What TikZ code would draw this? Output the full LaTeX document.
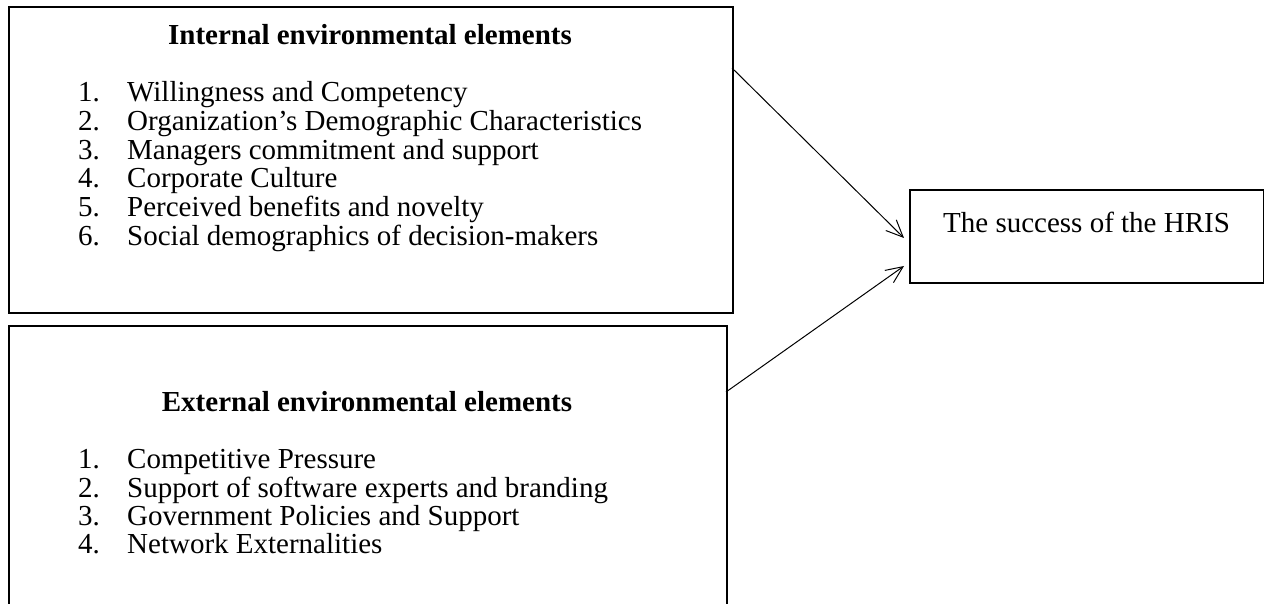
\documentclass[tikz,border=0pt]{standalone}
\usepackage{fontspec}
\setmainfont{Liberation Serif}
\usetikzlibrary{arrows.meta}
\begin{document}
\begin{tikzpicture}[x=1pt,y=-1pt,
  boxstyle/.style={draw=black,line width=1.8pt,inner sep=0pt,anchor=north west},
  txt/.style={inner sep=0pt,anchor=base west,font=\fontsize{29}{34}\selectfont},
  ttl/.style={inner sep=0pt,anchor=base,font=\fontsize{29}{34}\selectfont\bfseries},
  conn/.style={line width=1pt,-{Straight Barb[length=17pt,width=15pt,line width=1pt]}}]
\useasboundingbox (0,0) rectangle (1264,604);
\clip (0,0) rectangle (1264,604);
\fill[white] (0,0) rectangle (1264,604);
% boxes
\node[boxstyle,minimum width=724pt,minimum height=306pt] (box1) at (8,6) {};
\node[boxstyle,minimum width=718pt,minimum height=300pt] (box2) at (8,325) {};
\node[boxstyle,minimum width=354pt,minimum height=93pt] (box3) at (909,189) {};
% box1 text
\node[ttl] (t1) at (370,45) {Internal environmental elements};
\node[txt] (n11) at (78,102) {1.}; \node[txt] (i11) at (127,102) {Willingness and Competency};
\node[txt] (n12) at (78,131) {2.}; \node[txt] (i12) at (127,131) {Organization’s Demographic Characteristics};
\node[txt] (n13) at (78,160) {3.}; \node[txt] (i13) at (127,160) {Managers commitment and support};
\node[txt] (n14) at (78,188) {4.}; \node[txt] (i14) at (127,188) {Corporate Culture};
\node[txt] (n15) at (78,217) {5.}; \node[txt] (i15) at (127,217) {Perceived benefits and novelty};
\node[txt] (n16) at (78,246) {6.}; \node[txt] (i16) at (127,246) {Social demographics of decision-makers};
% box2 text
\node[ttl] (t2) at (367,411) {External environmental elements};
\node[txt] (n21) at (78,468) {1.}; \node[txt] (i21) at (127,468) {Competitive Pressure};
\node[txt] (n22) at (78,497) {2.}; \node[txt] (i22) at (127,497) {Support of software experts and branding};
\node[txt] (n23) at (78,525) {3.}; \node[txt] (i23) at (127,525) {Government Policies and Support};
\node[txt] (n24) at (78,553) {4.}; \node[txt] (i24) at (127,553) {Network Externalities};
% box3 text
\node[txt] (hris) at (943,233) {The success of the HRIS};
% connectors
\coordinate (s1) at (732,68);
\coordinate (e1) at (904,238);
\coordinate (s2) at (726,392);
\coordinate (e2) at (904,266);
\draw[conn] (s1) -- (e1);
\draw[conn] (s2) -- (e2);
\end{tikzpicture}
\end{document}
